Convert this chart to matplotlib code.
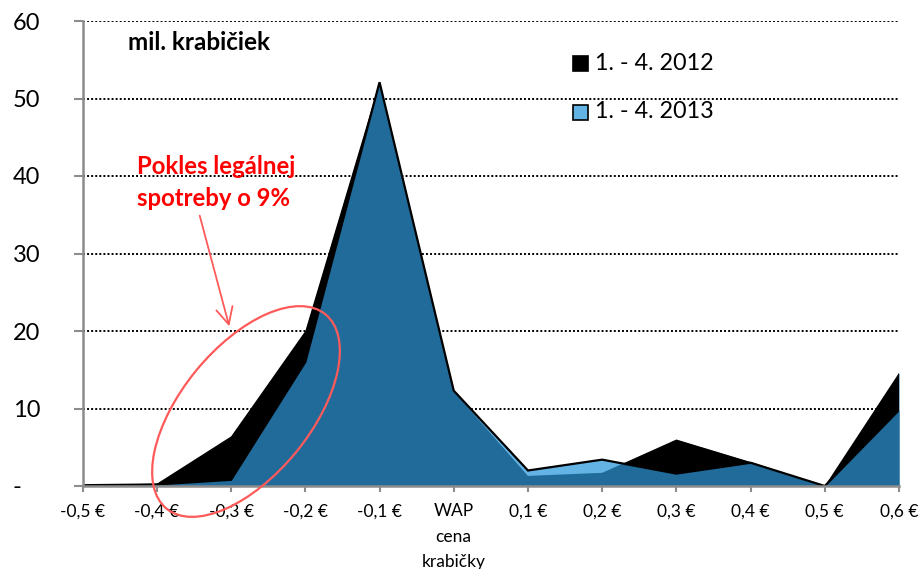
import matplotlib
matplotlib.use("Agg")
import matplotlib.pyplot as plt
import numpy as np
from matplotlib.patches import Ellipse, Rectangle, FancyArrowPatch

plt.rcParams['font.family'] = ['Lato', 'DejaVu Sans']

categories = ["-0,5 €", "-0,4 €", "-0,3 €", "-0,2 €", "-0,1 €", "WAP\ncena\nkrabičky",
              "0,1 €", "0,2 €", "0,3 €", "0,4 €", "0,5 €", "0,6 €"]
s2012 = [0.1, 0.3, 6.4, 20.0, 52.1, 12.2, 1.3, 1.7, 6.0, 3.1, 0.0, 14.6]
s2013 = [0.1, 0.2, 0.8, 16.0, 52.1, 12.3, 2.0, 3.4, 1.6, 3.0, 0.0, 9.8]
yticks = [0, 10, 20, 30, 40, 50, 60]
ytick_labels = ["-   ", "10", "20", "30", "40", "50", "60"]
legend_labels = ["1. - 4. 2012", "1. - 4. 2013"]

DARK = "#206B9A"
LIGHT = "#63B4E4"
BLACK = "#000000"
RED = "#FF0000"
CIRCLE = "#FF5A5A"
AXIS = "#8C8C8C"

W, H = 921, 569
fig = plt.figure(figsize=(W / 100, H / 100), dpi=100)
L, R, T, B = 82.7, 899, 21, 486
ax = fig.add_axes([L / W, (H - B) / H, (R - L) / W, (B - T) / H])

x = np.arange(len(categories))
a12 = np.array(s2012)
a13 = np.array(s2013)

# overlap (dark) then exclusive parts
ax.fill_between(x, 0, a12, color=DARK, lw=0, zorder=2)
ax.fill_between(x, 0, a13, color=DARK, lw=0, zorder=2)
ax.fill_between(x, a12, a13, where=a13 >= a12, interpolate=True, color=LIGHT, lw=0, zorder=3)
ax.fill_between(x, a13, a12, where=a12 >= a13, interpolate=True, color=BLACK, lw=0, zorder=3)
ax.plot(x, a13, color=BLACK, lw=1.6, zorder=4, solid_joinstyle='miter')

ax.set_xlim(0, len(categories) - 1)
ax.set_ylim(0, 60)

ax.set_yticks(yticks)
ax.set_yticklabels(ytick_labels, fontsize=17)
ax.set_xticks(x)
ax.set_xticklabels(categories, fontsize=12.5, linespacing=1.72)
for lab in ax.get_xticklabels():
    lab.set_verticalalignment('top')

for yv in yticks[1:]:
    ax.axhline(yv, color=BLACK, lw=1.4, linestyle=(0, (1, 1.1)), zorder=1)

for s in ['top', 'right']:
    ax.spines[s].set_visible(False)
for s in ['left', 'bottom']:
    ax.spines[s].set_color(AXIS)
    ax.spines[s].set_linewidth(1.8)
    ax.spines[s].set_zorder(5)
ax.tick_params(axis='y', direction='out', length=6.5, width=1.5, color=AXIS, pad=24)
ax.tick_params(axis='x', direction='out', length=4.5, width=1.5, color=AXIS, pad=8)

# unit label
fig.text(128 / W, 1 - 43 / H, "mil. krabičiek", fontsize=17.5, fontweight='bold',
         ha='left', va='center')

# legend (manual)
for i, (lab, col) in enumerate(zip(legend_labels, [BLACK, LIGHT])):
    cy = [63, 112][i]
    fig.patches.append(Rectangle((573 / W, 1 - (cy + 8) / H), 15 / W, 15 / H,
                                 transform=fig.transFigure, facecolor=col,
                                 edgecolor=BLACK, lw=1.2))
    fig.text(595 / W, 1 - cy / H, lab, fontsize=16.8, ha='left', va='center')

# red annotation
fig.text(137 / W, 1 - 167 / H, "Pokles legálnej", fontsize=17.2, fontweight='bold',
         color=RED, ha='left', va='center')
fig.text(137 / W, 1 - 199 / H, "spotreby o 9%", fontsize=17.2, fontweight='bold',
         color=RED, ha='left', va='center')

arr = FancyArrowPatch((199 / W, 1 - 213 / H), (230 / W, 1 - 329 / H),
                      transform=fig.transFigure, arrowstyle='->,head_length=8,head_width=4',
                      color=CIRCLE, lw=1.3, mutation_scale=1.5)
fig.patches.append(arr)

ell = Ellipse((246, H - 411.5), 251, 129, angle=50.7, transform=None,
              fill=False, edgecolor=CIRCLE, lw=1.6, zorder=10)
fig.patches.append(ell)

fig.savefig("out.png", dpi=100)
